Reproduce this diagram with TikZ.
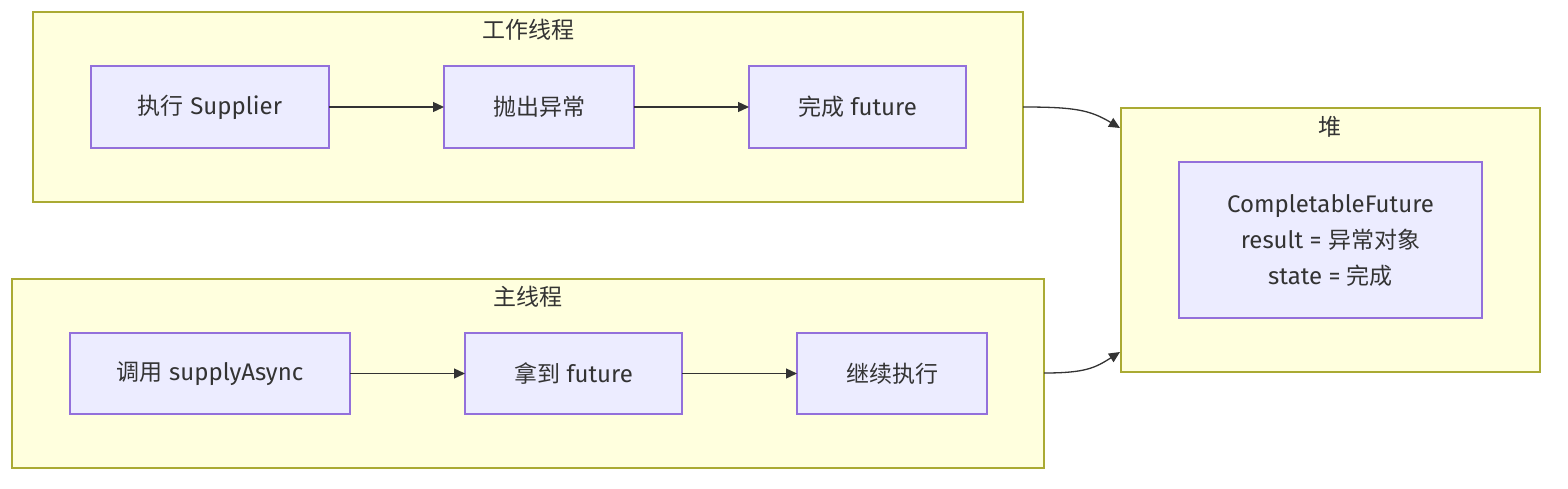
\documentclass[tikz,border=0pt]{standalone}
\usepackage{fontspec}
\setmainfont{Fira Sans}
\newfontfamily\cjk{Noto Sans CJK SC}
\usetikzlibrary{arrows.meta,positioning}
\definecolor{clfill}{HTML}{FFFFDE}
\definecolor{cldraw}{HTML}{AAAA33}
\definecolor{ndfill}{HTML}{ECECFF}
\definecolor{nddraw}{HTML}{9370DB}
\definecolor{txt}{HTML}{333333}
\tikzset{
  cluster/.style={draw=cldraw,fill=clfill,line width=1.2pt},
  nodebox/.style={draw=nddraw,fill=ndfill,line width=1.2pt},
  lbl/.style={text=txt,font=\fontsize{24}{30}\selectfont,align=center,inner sep=0},
  arr/.style={draw=txt,line width=1.3pt,-{Triangle[length=11pt,width=10pt]}},
}
\newcommand{\zh}[1]{{\cjk\fontsize{23}{30}\selectfont #1}}
\begin{document}
\begin{tikzpicture}[x=1pt,y=-1pt]
\useasboundingbox (0,0) rectangle (1568,488);
% clusters
\draw[cluster] (33,12) rectangle (1023,202);
\node[lbl] (wt) at (528,30) {\zh{工作线程}};
\draw[cluster] (12,279) rectangle (1044,468);
\node[lbl] (mt) at (528,297) {\zh{主线程}};
\draw[cluster] (1121,108) rectangle (1540,372);
\node[lbl] (ht) at (1330,127) {\zh{堆}};
% worker nodes
\draw[nodebox] (91,66) rectangle (329,148);
\node[lbl] (w1) at (210,107) {\zh{执行} Supplier};
\draw[nodebox] (444,66) rectangle (634,148);
\node[lbl] (w2) at (539,107) {\zh{抛出异常}};
\draw[nodebox] (749,66) rectangle (966,148);
\node[lbl] (w3) at (857.5,107) {\zh{完成} future};
% main nodes
\draw[nodebox] (70,333) rectangle (350,414);
\node[lbl] (m1) at (210,373.5) {\zh{调用} supplyAsync};
\draw[nodebox] (465,333) rectangle (682,414);
\node[lbl] (m2) at (573.5,373.5) {\zh{拿到} future};
\draw[nodebox] (797,333) rectangle (987,414);
\node[lbl] (m3) at (892,373.5) {\zh{继续执行}};
% heap node
\draw[nodebox] (1179,162) rectangle (1482,318);
\node[lbl,font=\fontsize{24}{36}\selectfont] (h1) at (1330.5,240) {CompletableFuture\\result = \zh{异常对象}\\state = \zh{完成}};
% coordinates for edges
\coordinate (w1e) at (329,107); \coordinate (w2w) at (444,107);
\coordinate (w2e) at (634,107); \coordinate (w3w) at (749,107);
\coordinate (m1e) at (350,373.5); \coordinate (m2w) at (465,373.5);
\coordinate (m2e) at (682,373.5); \coordinate (m3w) at (797,373.5);
\coordinate (wce) at (1023,107); \coordinate (hin1) at (1120,128);
\coordinate (mce) at (1044,373); \coordinate (hin2) at (1120,352);
\draw[arr] (w1e) -- (w2w);
\draw[arr] (w2e) -- (w3w);
\draw[arr] (m1e) -- (m2w);
\draw[arr] (m2e) -- (m3w);
\draw[arr] (wce) .. controls (1075,107) and (1090,110) .. (hin1);
\draw[arr] (mce) .. controls (1085,373) and (1095,368) .. (hin2);
\end{tikzpicture}
\end{document}
